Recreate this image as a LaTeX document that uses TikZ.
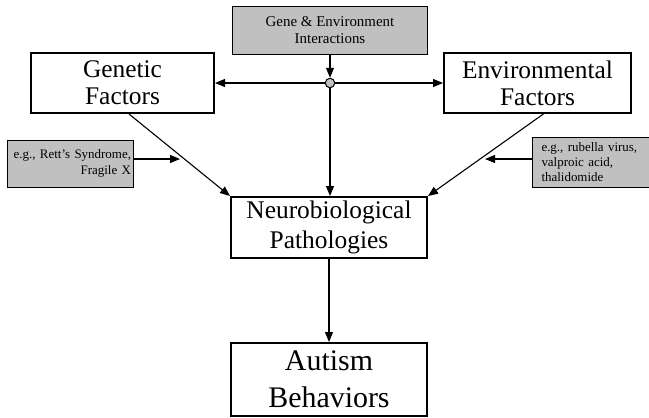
\documentclass[tikz,border=0pt]{standalone}
\usepackage{fontspec}
\setmainfont{Liberation Serif}
\usetikzlibrary{arrows.meta,calc}
\definecolor{boxgray}{HTML}{C0C0C0}
\begin{document}
\begin{tikzpicture}[x=1bp,y=-1bp,
  bigbox/.style={draw, line width=2bp, fill=white, align=center, inner sep=0pt},
  graybox/.style={draw, line width=1bp, fill=boxgray, inner sep=0pt},
  arr/.style={-{Triangle[length=10bp,width=8bp]}, line width=1.1bp},
  bigfont/.style={font=\fontsize{25.5}{27}\selectfont},
  smallfont/.style={font=\fontsize{13}{16}\selectfont}]
\useasboundingbox (0,0) rectangle (649,417);
\clip (0,0) rectangle (649,417);
% boxes
\node[graybox, minimum width=195bp, minimum height=48bp, align=center,
      font=\fontsize{15}{17}\selectfont] (gene) at (330,30) {Gene \& Environment\\Interactions};
\node[bigbox, bigfont, minimum width=183bp, minimum height=60bp] (gen) at (122.5,83) {Genetic\\Factors};
\node[bigbox, bigfont, minimum width=187bp, minimum height=60bp] (env) at (537.5,83) {Environmental\\Factors};
\node[bigbox, font=\fontsize{25.5}{30.5}\selectfont, minimum width=196bp, minimum height=61bp] (neuro) at (329,227.5) {Neurobiological\\Pathologies};
\node[bigbox, font=\fontsize{30}{37}\selectfont, minimum width=196bp, minimum height=73bp] (aut) at (329,379.5) {Autism\\Behaviors};
\node[graybox, smallfont, minimum width=125bp, minimum height=47bp, text width=121bp, align=right] (rett) at (70.5,163.5) {e.g., Rett's Syndrome,\\Fragile X};
\node[graybox, font=\fontsize{13}{15}\selectfont, minimum width=130bp, minimum height=50bp, text width=112bp, inner xsep=9bp, align=left, anchor=west] (envex) at (532,162) {e.g., rubella virus,\\valproic acid,\\thalidomide};
\node[circle, draw, line width=1bp, fill=boxgray, minimum size=9.5bp, inner sep=0pt] (circ) at (330,83) {};
% helper coordinates
\coordinate (gdiag) at ($(gen.south west)!0.535!(gen.south east)$);
\coordinate (ediag) at ($(env.south west)!0.531!(env.south east)$);
\coordinate (rtip) at (180,159);
\coordinate (ltip) at (485,159);
% connectors
\draw[arr] (gene.south) -- (circ.north);
\draw[arr] (circ.west) -- (gen.east);
\draw[arr] (circ.east) -- (env.west);
\draw[arr] (circ.south) -- (circ.south |- neuro.north);
\draw[arr] (neuro.south) -- (aut.north);
\draw[arr] (gdiag) -- (neuro.north west);
\draw[arr] (ediag) -- (neuro.north east);
\draw[arr] (rtip -| rett.east) -- (rtip);
\draw[arr] (ltip -| envex.west) -- (ltip);
\end{tikzpicture}
\end{document}
